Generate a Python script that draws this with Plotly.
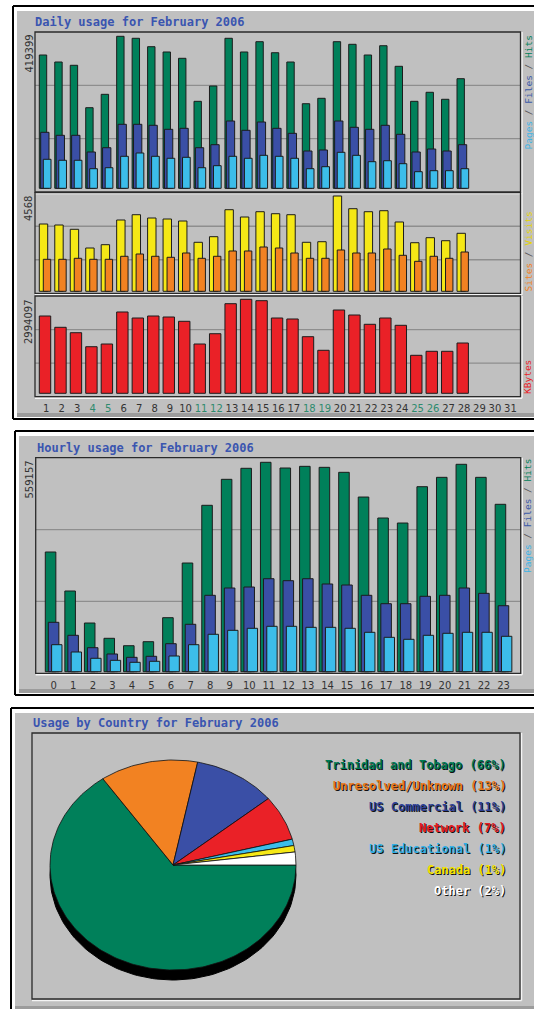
import numpy as np
import plotly.graph_objects as go

W, H = 534, 1009

# ---- data ----
days = list(range(1, 32))
weekend_days = [4, 5, 11, 12, 18, 19, 25, 26]
daily_hits = [367800, 348500, 339400, 222400, 259300, 419399, 413900, 390700, 376100, 358700,
              240000, 282300, 413900, 376100, 404500, 374100, 348500, 233400, 248300, 404500,
              397300, 367800, 393400, 336600, 240000, 264900, 245600, 302400]
daily_files = [154500, 146200, 146200, 100200, 112000, 176600, 176600, 173800, 162800, 165500,
               112000, 120300, 185700, 160000, 182900, 165500, 151700, 102900, 105700, 185700,
               168300, 162800, 173800, 149000, 100200, 108400, 102900, 120300]
daily_pages = [80000, 77300, 77300, 54100, 56800, 88300, 97400, 88300, 82800, 85500,
               56800, 62400, 88300, 82800, 91000, 88300, 82800, 54100, 59600, 99300,
               91000, 73400, 76100, 67900, 45800, 48600, 48600, 54100]
daily_visits = [3226, 3178, 2972, 2075, 2234, 3417, 3671, 3513, 3465, 3369, 2349, 2617, 3911, 3561,
                3815, 3719, 3671, 2349, 2377, 4568, 3959, 3815, 3863, 3322, 2329, 2569, 2425, 2780]
daily_sites = [1534, 1534, 1582, 1534, 1534, 1678, 1788, 1678, 1630, 1836, 1582, 1678, 1932, 1932,
               2123, 2075, 1836, 1582, 1582, 1980, 1836, 1836, 2027, 1725, 1438, 1678, 1582, 1884]
daily_kbytes = [2462000, 2102000, 1930000, 1484000, 1570000, 2590000, 2398000, 2462000, 2430000,
                2293000, 1570000, 1898000, 2854000, 2994097, 2950000, 2398000, 2367000, 1803000,
                1370000, 2653000, 2494000, 2198000, 2398000, 2166000, 1210000, 1338000, 1338000,
                1602000]

hours = list(range(24))
hourly_hits = [319600, 215500, 130000, 89200, 69400, 80100, 144200, 290200, 444300, 513700,
               543100, 559157, 543900, 548400, 545700, 532400, 466400, 410400, 397000, 494000,
               519000, 553800, 519000, 447000]
hourly_files = [131900, 97200, 64100, 47300, 38400, 41100, 74800, 126600, 204000, 223500,
                226100, 248300, 243000, 248300, 234200, 231500, 204000, 181600, 181600, 201300,
                204000, 223500, 209300, 176200]
hourly_pages = [72100, 52600, 35800, 30400, 25100, 27800, 41900, 72100, 99900, 110500,
                115900, 121200, 121200, 118500, 118500, 115900, 105200, 91800, 86500, 97200,
                102500, 105200, 105200, 94500]

countries = ["Trinidad and Tobago", "Unresolved/Unknown", "US Commercial", "Network",
             "US Educational", "Canada", "Other"]
country_pct = [66, 13, 11, 7, 1, 1, 2]

# ---- styling ----
GRAY = "#c0c0c0"
GREEN, BLUE, CYAN = "#00805a", "#3a4fa6", "#3cbdea"
YELLOW, ORANGE, RED = "#f5e816", "#f28222", "#ea2127"
TITLE_BLUE = "#3a55b0"
pie_colors = [GREEN, ORANGE, BLUE, RED, CYAN, YELLOW, "#ffffff"]
legend_colors = ["#007a55", "#e8781c", "#2c3f98", "#e41c24", "#2eaee6", "#f2e400", "#ffffff"]
MONO = "DejaVu Sans Mono"
EDGE = W + 40  # panels run off the right edge of the page


def fx(px):
    return px / W


def fy(py):
    return 1 - py / H


def yrange(vmax, top, bottom, base, peak):
    scale = vmax / (base - peak)
    return [-(bottom - base) * scale, (base - top) * scale]


shapes = []


def rect(x0, y0, x1, y1, **kw):
    shapes.append(dict(type="rect", xref="paper", yref="paper", x0=fx(x0), x1=fx(x1),
                       y0=fy(y1), y1=fy(y0), layer="below", **kw))


def line(x0, y0, x1, y1, color, width=1.2):
    shapes.append(dict(type="line", xref="paper", yref="paper", x0=fx(x0), x1=fx(x1),
                       y0=fy(y0), y1=fy(y1), layer="below", line=dict(color=color, width=width)))


def panel(x0, y0, y1):
    # white frame, grey body, dark bevel strip at the bottom; open on the right edge
    rect(x0, y0, EDGE, y1, line=dict(width=0), fillcolor="#ffffff")
    rect(x0 + 4, y0 + 5, EDGE, y1 - 2, line=dict(width=0), fillcolor=GRAY)
    rect(x0 + 4, y1 - 6, EDGE, y1 - 2, line=dict(width=0), fillcolor="#9c9c9c")
    line(x0, y0, EDGE, y0, "#000", 2)
    line(x0, y0, x0, y1, "#000", 2)
    line(x0, y1, EDGE, y1, "#000", 2)


def plotbox(x0, y0, x1, y1, grid=True):
    line(x1 + 1.5, y0, x1 + 1.5, y1 + 1.5, "#f4f4f4", 1.5)
    line(x0, y1 + 1.5, x1 + 1.5, y1 + 1.5, "#f4f4f4", 1.5)
    if grid:
        for k in (1, 2):
            yy = y0 + (y1 - y0) * k / 3
            line(x0, yy, x1, yy, "#8e8e8e", 1.3)
    rect(x0, y0, x1, y1, line=dict(color="#2a2a2a", width=1.3), fillcolor="rgba(0,0,0,0)")


panel(13, 6, 419)
panel(15, 431, 695)
panel(11, 708, 1012)

BOX_L, BOX_R = 35, 520.5
daily_boxes = [(32, 192), (192.7, 293.3), (296, 396.7)]
for t, b in daily_boxes:
    plotbox(BOX_L, t, BOX_R, b)
plotbox(35.7, 457.7, 520.7, 673.3)
plotbox(32, 733, 520, 999, grid=False)

fig = go.Figure()


def bars(x, y, color, offset, width, xa, ya):
    fig.add_trace(go.Bar(x=x, y=y, offset=offset, width=width, xaxis=xa, yaxis=ya,
                         marker=dict(color=color, line=dict(color="#1c1c1c", width=1)),
                         showlegend=False, hoverinfo="skip"))


dd = list(range(1, len(daily_hits) + 1))
bars(dd, daily_hits, GREEN, -0.452, 0.478, "x", "y")
bars(dd, daily_files, BLUE, -0.362, 0.537, "x", "y")
bars(dd, daily_pages, CYAN, -0.194, 0.498, "x", "y")
bars(dd, daily_visits, YELLOW, -0.452, 0.543, "x2", "y2")
bars(dd, daily_sites, ORANGE, -0.194, 0.479, "x2", "y2")
bars(dd, daily_kbytes, RED, -0.452, 0.737, "x3", "y3")

bars(hours, hourly_hits, GREEN, -0.43, 0.54, "x4", "y4")
bars(hours, hourly_files, BLUE, -0.276, 0.54, "x4", "y4")
bars(hours, hourly_pages, CYAN, -0.107, 0.53, "x4", "y4")

# pie, drawn as an elliptical 3D-ish pie on a pixel-unit axis
cx, cy, rx, ry = 173, 865, 123, 105
tt = np.linspace(0, 2 * np.pi, 200)
fig.add_trace(go.Scatter(x=cx + rx * np.cos(tt), y=cy + 10 + ry * np.sin(tt), fill="toself",
                         fillcolor="#000", line=dict(color="#000", width=1), mode="lines",
                         xaxis="x5", yaxis="y5", showlegend=False, hoverinfo="skip"))
frac = np.array(country_pct, dtype=float) / sum(country_pct)
edges = np.concatenate([[0], np.cumsum(frac)]) * 2 * np.pi
for i, col in enumerate(pie_colors):
    t = np.linspace(edges[i], edges[i + 1], max(4, int(300 * frac[i])))
    xs = np.concatenate([[cx], cx + rx * np.cos(t), [cx]])
    ys = np.concatenate([[cy], cy + ry * np.sin(t), [cy]])
    fig.add_trace(go.Scatter(x=xs, y=ys, fill="toself", fillcolor=col, mode="lines",
                             line=dict(color="#111", width=0.8), xaxis="x5", yaxis="y5",
                             showlegend=False, hoverinfo="skip"))

# ---- annotations ----
ann = []


def text(x, y, s, size=12, color="#333", family=MONO, angle=0, xa="left", ya="middle"):
    ann.append(dict(xref="paper", yref="paper", x=fx(x), y=fy(y), text=s, showarrow=False,
                    textangle=angle, xanchor=xa, yanchor=ya,
                    font=dict(family=family, size=size, color=color)))


text(33, 22, "<b>Daily usage for February 2006</b>", color=TITLE_BLUE)
text(35, 447.5, "<b>Hourly usage for February 2006</b>", color=TITLE_BLUE)
text(31, 723, "<b>Usage by Country for February 2006</b>", color=TITLE_BLUE)

for v, top in [(max(daily_hits), 33), (max(daily_visits), 194), (max(daily_kbytes), 297),
               (max(hourly_hits), 459)]:
    text(28.5, top, str(v), size=10, family="DejaVu Sans", angle=-90, xa="center", ya="top")


def sp(s, c):
    return f"<span style='color:{c}'>{s}</span>"


pfh = sp("Pages", "#3cb4e6") + sp(" / ", "#555") + sp("Files", "#3a5aa8") + sp(" / ", "#555") + sp("Hits", GREEN)
LEG_X = 527.5
text(LEG_X, 93, pfh, size=9.5, angle=-90, xa="center")
text(LEG_X, 252, sp("Sites", ORANGE) + sp(" / ", "#555") + sp("Visits", "#e6d400"),
     size=9.5, angle=-90, xa="center")
text(LEG_X, 377.5, sp("KBytes", RED), size=9.5, angle=-90, xa="center")
text(LEG_X, 516.5, pfh, size=9.5, angle=-90, xa="center")

for i, (name, pct) in enumerate(zip(countries, country_pct)):
    label = f"<b>{name} ({pct}%)</b>"
    yy = 764.6 + 21.1 * i
    text(508.5, yy + 1, label, color="#111", xa="right")
    text(507.5, yy, label, color=legend_colors[i], xa="right")

tick_days = [sp(d, "#2e8b6e") if d in weekend_days else str(d) for d in days]

day_c, day_step = 46.3, 15.47
day_range = [1 + (BOX_L - day_c) / day_step, 1 + (BOX_R - day_c) / day_step]
hr_c, hr_step = 53.7, 19.56
hr_range = [(35.7 - hr_c) / hr_step, (520.7 - hr_c) / hr_step]

hidden = dict(visible=False, fixedrange=True, showgrid=False, zeroline=False)


def tickax(standoff):
    return dict(visible=True, fixedrange=True, showgrid=False, zeroline=False, showline=False,
                ticks="outside", ticklen=0, tickcolor="rgba(0,0,0,0)",
                ticklabelstandoff=standoff,
                tickfont=dict(family="DejaVu Sans", size=10, color="#333"))


fig.update_layout(
    width=W, height=H, margin=dict(l=0, r=0, t=0, b=0),
    paper_bgcolor="#ffffff", plot_bgcolor="rgba(0,0,0,0)",
    barmode="overlay", showlegend=False, shapes=shapes, annotations=ann,
    xaxis=dict(domain=[fx(BOX_L), fx(BOX_R)], range=day_range, anchor="y", **hidden),
    yaxis=dict(domain=[fy(192), fy(32)], anchor="x",
               range=yrange(max(daily_hits), 32, 192, 188.3, 36.3), **hidden),
    xaxis2=dict(domain=[fx(BOX_L), fx(BOX_R)], range=day_range, anchor="y2", **hidden),
    yaxis2=dict(domain=[fy(293.3), fy(192.7)], anchor="x2",
                range=yrange(max(daily_visits), 192.7, 293.3, 291.3, 196), **hidden),
    xaxis3=dict(domain=[fx(BOX_L), fx(BOX_R)], range=day_range, anchor="y3",
                tickvals=days, ticktext=tick_days, **tickax(2)),
    yaxis3=dict(domain=[fy(396.7), fy(296)], anchor="x3",
                range=yrange(max(daily_kbytes), 296, 396.7, 393.3, 299.3), **hidden),
    xaxis4=dict(domain=[fx(35.7), fx(520.7)], range=hr_range, anchor="y4",
                tickvals=hours, ticktext=[str(h) for h in hours], **tickax(3)),
    yaxis4=dict(domain=[fy(673.3), fy(457.7)], anchor="x4",
                range=yrange(max(hourly_hits), 457.7, 673.3, 671.7, 462.3), **hidden),
    xaxis5=dict(domain=[fx(32), fx(520)], range=[32, 520], anchor="y5", **hidden),
    yaxis5=dict(domain=[fy(999), fy(733)], range=[999, 733], anchor="x5", **hidden),
)

fig.write_html("out.html", config={"displayModeBar": False},
               post_script="document.body.style.margin='0';document.body.style.overflow='hidden';")
